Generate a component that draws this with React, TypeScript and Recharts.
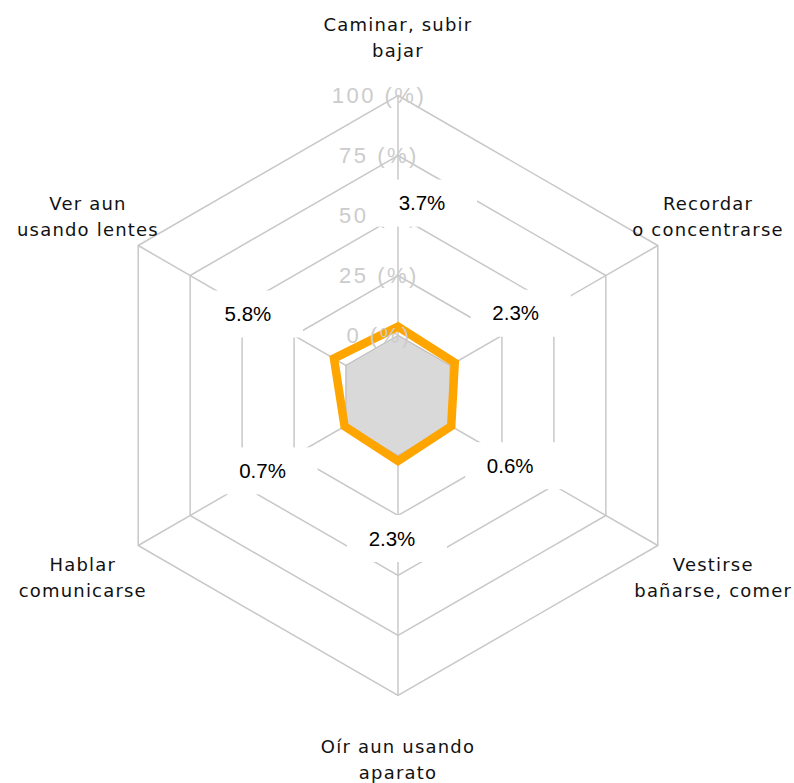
import { RadarChart, Radar, PolarGrid, PolarAngleAxis, PolarRadiusAxis, LabelList } from 'recharts';

// axes, clockwise from the top
const categories = [
  'Caminar, subir bajar',
  'Recordar o concentrarse',
  'Vestirse bañarse, comer',
  'Oír aun usando aparato',
  'Hablar comunicarse',
  'Ver aun usando lentes',
];
const categoryLines = [
  ['Caminar, subir', 'bajar'],
  ['Recordar', 'o concentrarse'],
  ['Vestirse', 'bañarse, comer'],
  ['Oír aun usando', 'aparato'],
  ['Hablar', 'comunicarse'],
  ['Ver aun', 'usando lentes'],
];
const values = [3.7, 2.3, 0.6, 2.3, 0.7, 5.8];
const baseValues = [0, 0, 0, 0, 0, 0];
const radiusDomain = [-25, 100];
const radiusTickLabels: Record<number, string> = {
  0: '0 (%)',
  25: '25 (%)',
  50: '50 (%)',
  75: '75 (%)',
  100: '100 (%)',
};

const data = categories.map((c, i) => ({ name: c, value: values[i], base: baseValues[i] }));

const W = 794;
const H = 783;
const CX = 398;
const CY = 395.5;
const R = 300;

// where each value label sits relative to its point
const labelOffsets = [
  [24, -124],
  [61, -50],
  [59, 39],
  [-6, 77],
  [-82, 44],
  [-86, -45],
];

function AngleTick(props: any) {
  const { x, y, index } = props;
  const dx = x - CX;
  const dy = y - CY;
  const len = Math.sqrt(dx * dx + dy * dy) || 1;
  const ux = dx / len;
  const uy = dy / len;
  const d = uy > 0.1 ? 56 : 50;
  const bx = x + ux * d;
  const by = y + uy * d;
  const lines = categoryLines[index] || [];
  return (
    <g>
      {lines.map((l, k) => (
        <text
          key={k}
          x={bx}
          y={by + (k - (lines.length - 1) / 2) * 26}
          textAnchor="middle"
          dominantBaseline="central"
          fontFamily="'DejaVu Sans', sans-serif"
          fontSize={18}
          letterSpacing={1.2}
          fill="#111"
        >
          {l}
        </text>
      ))}
    </g>
  );
}

function RadiusTick(props: any) {
  const { x, y, payload } = props;
  const label = radiusTickLabels[payload.value];
  if (!label) return null;
  return (
    <text
      x={x - 19}
      y={y}
      textAnchor="middle"
      dominantBaseline="central"
      fontFamily="'Liberation Sans', Arial, sans-serif"
      fontSize={22}
      letterSpacing={2.5}
      fill="#cccccc"
    >
      {label}
    </text>
  );
}

function ValueLabel(props: any) {
  const { x, y, value, index } = props;
  const off = labelOffsets[index] || [0, 0];
  const tx = x + off[0];
  const ty = y + off[1];
  return (
    <g>
      <rect x={tx - 45} y={ty - 23} width={100} height={47} fill="#fff" />
      <text
        x={tx}
        y={ty}
        textAnchor="middle"
        dominantBaseline="central"
        fontFamily="'Liberation Sans', Arial, sans-serif"
        fontSize={20.5}
        fill="#000"
      >
        {`${value}%`}
      </text>
    </g>
  );
}

export default function App() {
  return (
    <div style={{ position: 'absolute', left: 0, top: 0, width: W, height: H, background: '#fff' }}>
      <RadarChart
        width={W}
        height={H}
        data={data}
        cx={CX}
        cy={CY}
        outerRadius={R}
        margin={{ top: 0, right: 0, bottom: 0, left: 0 }}
      >
        <PolarGrid gridType="polygon" stroke="#c8c8c8" strokeWidth={1.5} />
        <Radar dataKey="base" fill="#d9d9d9" fillOpacity={1} stroke="#c0c0c0" strokeWidth={1} isAnimationActive={false} />
        <PolarRadiusAxis
          angle={90}
          domain={radiusDomain}
          tickCount={6}
          axisLine={false}
          tickLine={false}
          tick={<RadiusTick />}
        />
        <PolarAngleAxis dataKey="name" tickLine={false} axisLine={false} tick={<AngleTick />} />
        <Radar
          dataKey="value"
          fill="none"
          fillOpacity={0}
          stroke="#FFA500"
          strokeWidth={8.5}
          strokeLinejoin="miter"
          isAnimationActive={false}
        >
          <LabelList dataKey="value" content={<ValueLabel />} />
        </Radar>
      </RadarChart>
    </div>
  );
}
